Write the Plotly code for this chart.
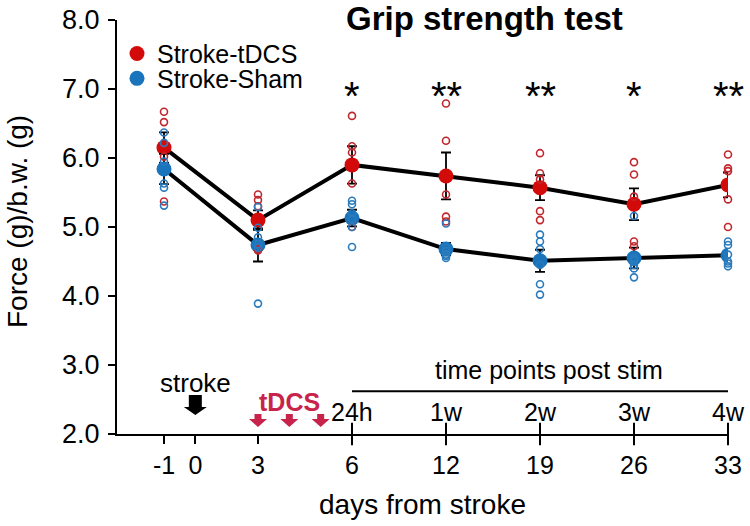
import plotly.graph_objects as go

# ---------------- data ----------------
days = [-1, 3, 6, 12, 19, 26, 33]

tdcs_mean = [6.15, 5.10, 5.90, 5.74, 5.57, 5.33, 5.61]
tdcs_sem = [0.22, 0.14, 0.27, 0.34, 0.18, 0.23, 0.18]
sham_mean = [5.84, 4.74, 5.13, 4.68, 4.51, 4.55, 4.59]
sham_sem = [0.22, 0.24, 0.12, 0.09, 0.16, 0.15, 0.05]

tdcs_points = [
    [6.67, 6.52, 6.21, 6.02, 5.37],
    [5.47, 5.39, 5.30, 4.68, 4.66],
    [6.61, 6.17, 6.08, 5.63, 5.00],
    [6.79, 6.25, 5.47, 5.15, 5.08],
    [6.07, 5.78, 5.69, 5.23, 5.10],
    [5.94, 5.76, 5.44, 4.79, 4.72],
    [6.05, 5.85, 5.81, 5.40, 5.00],
]
sham_points = [
    [6.37, 6.22, 5.95, 5.63, 5.57, 5.31],
    [5.29, 4.99, 4.85, 4.75, 4.70, 3.89],
    [5.38, 5.33, 5.20, 5.12, 5.00, 4.71],
    [5.05, 4.70, 4.65, 4.60, 4.55, 4.58],
    [4.89, 4.79, 4.68, 4.45, 4.17, 4.02],
    [5.16, 4.55, 4.52, 4.45, 4.40, 4.27],
    [4.79, 4.74, 4.60, 4.50, 4.47, 4.43],
]

stars = ["", "", "*", "**", "**", "*", "**"]

tick_days = [-1, 0, 3, 6, 12, 19, 26, 33]
post_days = [6, 12, 19, 26, 33]
post_labels = ["24h", "1w", "2w", "3w", "4w"]
stroke_day = 0
stim_days = [3, 4, 5]

# broken x axis: day -> position on the drawn axis
POS = {-1: 0, 0: 1, 3: 3, 4: 4, 5: 5, 6: 6, 12: 9, 19: 12, 26: 15, 33: 18}

# ---------------- style ----------------
FONT = "Liberation Sans, Arial, sans-serif"
RED = "#d20a0a"
RED_OPEN = "#c0272d"
BLUE = "#1a74bb"
BLUE_OPEN = "#2a7bbd"
STIM = "#c8234a"

x = [POS[d] for d in days]

fig = go.Figure()

for mean in (tdcs_mean, sham_mean):
    fig.add_trace(go.Scatter(x=x, y=mean, mode="lines",
                             line=dict(color="black", width=4),
                             showlegend=False, hoverinfo="skip"))

fig.add_trace(go.Scatter(
    x=x, y=tdcs_mean, mode="markers", name="Stroke-tDCS", legend="legend",
    marker=dict(size=15, color=RED),
    error_y=dict(type="data", array=tdcs_sem, color="black", thickness=1.8, width=5),
))
fig.add_trace(go.Scatter(
    x=x, y=sham_mean, mode="markers", name="Stroke-Sham", legend="legend2",
    marker=dict(size=15, color=BLUE),
    error_y=dict(type="data", array=sham_sem, color="black", thickness=1.8, width=5),
))

for pts, col in ((tdcs_points, RED_OPEN), (sham_points, BLUE_OPEN)):
    px, py = [], []
    for xi, vals in zip(x, pts):
        px += [xi] * len(vals)
        py += vals
    fig.add_trace(go.Scatter(
        x=px, y=py, mode="markers", showlegend=False, hoverinfo="skip",
        marker=dict(symbol="circle-open", size=7, color=col, line=dict(width=1.6)),
        cliponaxis=False,
    ))

# inner tick marks at the post-stim time points
fig.add_trace(go.Scatter(
    x=[POS[d] for d in post_days], y=[2.0] * len(post_days), mode="markers",
    marker=dict(symbol="line-ns", size=16, line=dict(width=2, color="black")),
    showlegend=False, hoverinfo="skip", cliponaxis=False,
))

annotations = []
for xi, s in zip(x, stars):
    if s:
        annotations.append(dict(x=xi, y=7.0, yshift=-7, text=s, showarrow=False,
                                yanchor="middle",
                                font=dict(family=FONT, size=40, color="black")))

for d, lab in zip(post_days, post_labels):
    annotations.append(dict(x=POS[d], y=2.32, text=lab, showarrow=False,
                            font=dict(family=FONT, size=25, color="black")))
annotations.append(dict(x=(POS[post_days[0]] + POS[post_days[-1]]) / 2 + 0.3, y=2.93,
                        text="time points post stim", showarrow=False,
                        font=dict(family=FONT, size=25, color="black")))

annotations.append(dict(x=POS[stroke_day], y=2.74, text="stroke", showarrow=False,
                        font=dict(family=FONT, size=26, color="black")))
annotations.append(dict(x=POS[4], y=2.47, text="<b>tDCS</b>", showarrow=False,
                        font=dict(family=FONT, size=25, color=STIM)))

annotations.append(dict(xref="paper", yref="paper", x=-0.164, y=0.514, textangle=-90,
                        xanchor="center", yanchor="middle",
                        text="Force (g)/b.w. (g)", showarrow=False,
                        font=dict(family=FONT, size=28, color="black")))
annotations.append(dict(xref="paper", yref="paper", x=0.5, y=-0.171,
                        xanchor="center", yanchor="middle",
                        text="days from stroke", showarrow=False,
                        font=dict(family=FONT, size=28, color="black")))
annotations.append(dict(xref="paper", yref="paper", x=0.602, y=1.0, yshift=2,
                        xanchor="center", yanchor="middle",
                        text="<b>Grip strength test</b>", showarrow=False,
                        font=dict(family=FONT, size=33, color="black")))


# block arrows drawn in pixel units around a data anchor (tip of the arrow)
def arrow_path(half_head, head_len, half_shaft, total_len):
    return (f"M0,0 L{-half_head},{head_len} L{-half_shaft},{head_len} "
            f"L{-half_shaft},{total_len} L{half_shaft},{total_len} "
            f"L{half_shaft},{head_len} L{half_head},{head_len} Z")


shapes = [dict(type="line", xref="x", yref="y",
               x0=POS[post_days[0]], x1=POS[post_days[-1]], y0=2.62, y1=2.62,
               line=dict(color="black", width=2))]
shapes.append(dict(type="path", xref="x", yref="y", xsizemode="pixel", ysizemode="pixel",
                   xanchor=POS[stroke_day], yanchor=2.275,
                   path=arrow_path(11.5, 8, 6.5, 20),
                   fillcolor="black", line=dict(width=0)))
for d in stim_days:
    shapes.append(dict(type="path", xref="x", yref="y", xsizemode="pixel", ysizemode="pixel",
                       xanchor=POS[d], yanchor=2.10,
                       path=arrow_path(9, 8, 3.5, 13),
                       fillcolor=STIM, line=dict(width=0)))

fig.update_layout(
    width=750, height=526,
    margin=dict(l=117, r=22, t=20, b=92),
    paper_bgcolor="white", plot_bgcolor="white",
    font=dict(family=FONT, size=25, color="black"),
    annotations=annotations,
    shapes=shapes,
    xaxis=dict(
        range=[-1.5, 18], tickmode="array", automargin=False,
        tickvals=[POS[d] for d in tick_days], ticktext=[str(d) for d in tick_days],
        ticks="outside", ticklen=8, tickwidth=2, tickcolor="black",
        showline=True, linecolor="black", linewidth=2, ticklabeloverflow="allow",
        showgrid=False, zeroline=False, tickfont=dict(size=25),
    ),
    yaxis=dict(
        range=[2, 8], tickmode="array", tickvals=[2, 3, 4, 5, 6, 7, 8], automargin=False,
        ticktext=[f"{v:.1f}" for v in [2, 3, 4, 5, 6, 7, 8]],
        ticks="outside", ticklen=7, tickwidth=2, tickcolor="black",
        showline=True, linecolor="black", linewidth=2, ticklabeloverflow="allow",
        ticklabelstandoff=3,
        showgrid=False, zeroline=False, tickfont=dict(size=27),
    ),
    legend=dict(x=0.0, y=0.974, xanchor="left", yanchor="top",
                bgcolor="rgba(0,0,0,0)", font=dict(size=25)),
    legend2=dict(x=0.0, y=0.914, xanchor="left", yanchor="top",
                 bgcolor="rgba(0,0,0,0)", font=dict(size=25)),
)

fig.write_html("out.html", config={"displayModeBar": False},
               post_script="document.body.style.margin='0';")
